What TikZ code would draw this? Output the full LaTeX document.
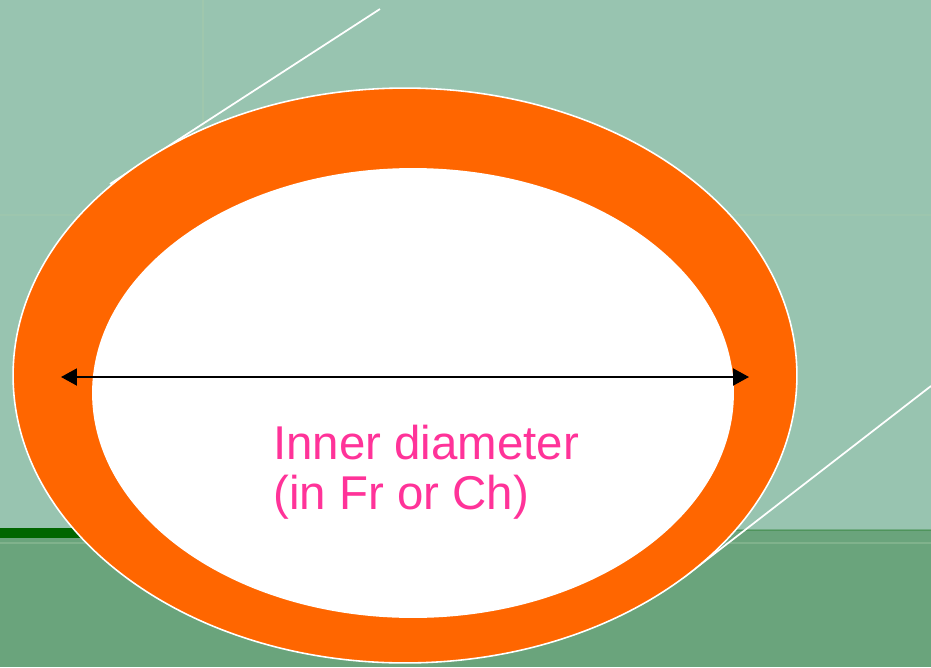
\documentclass[tikz,border=0pt]{standalone}
\usepackage{fontspec}
\setmainfont{Liberation Sans}
\usetikzlibrary{shapes.geometric, arrows.meta, positioning, calc}
\definecolor{bgtop}{RGB}{152,196,176}
\definecolor{bgbot}{RGB}{106,164,124}
\definecolor{bandgreen}{RGB}{0,102,0}
\definecolor{seamgreen}{RGB}{170,205,170}
\definecolor{tubeorange}{RGB}{255,102,0}
\definecolor{labelpink}{RGB}{255,51,153}
\tikzset{
  tubewall/.style={ellipse, draw=white, fill=tubeorange, line width=0.9pt,
    inner sep=0pt, minimum width=15.68cm, minimum height=11.5cm},
  lumen/.style={ellipse, fill=white, inner sep=0pt,
    minimum width=12.84cm, minimum height=9cm},
  dimarrow/.style={{Triangle[length=0.32cm,width=0.34cm]}-{Triangle[length=0.32cm,width=0.34cm]},
    line width=1.2pt, color=black},
  guideline/.style={white, line width=1pt},
  dimlabel/.style={text=labelpink, align=left, inner sep=0pt,
    font=\fontsize{27}{28.5}\selectfont}
}

\begin{document}
\begin{tikzpicture}[x=0.02cm, y=-0.02cm]
  \useasboundingbox (0,0) rectangle (931,667);
  % slide background
  \fill[bgtop] (0,0) rectangle (931,530);
  \fill[bgbot] (0,530) rectangle (931,667);
  \draw[seamgreen, opacity=0.4, line width=0.6pt] (203,0) -- (203,530);
  \draw[seamgreen, opacity=0.3, line width=0.6pt] (0,215) -- (931,215);
  \draw[seamgreen, opacity=0.35, line width=0.6pt] (0,543) -- (931,543);
  \draw[bandgreen, opacity=0.25, line width=0.6pt] (0,530) -- (931,530);
  \fill[bandgreen] (0,528) rectangle (200,538);

  \coordinate (g1a) at (380,9);
  \coordinate (g1b) at (110,184);
  \coordinate (g2a) at (931,386);
  \coordinate (g2b) at (683,578);
  \draw[guideline] (g1a) -- (g1b);
  \draw[guideline] (g2a) -- (g2b);

  % catheter cross-section
  \node[tubewall] (wall) at (405,375.5) {};
  \node[lumen] (lumen) at (413,393) {};

  \coordinate (dl) at (61,377);
  \coordinate (dr) at (749,377);
  \draw[dimarrow] (dl) -- (dr);

  \node[dimlabel, anchor=north west] (txt) at (273,425) {Inner diameter\\(in Fr or Ch)};
\end{tikzpicture}
\end{document}
